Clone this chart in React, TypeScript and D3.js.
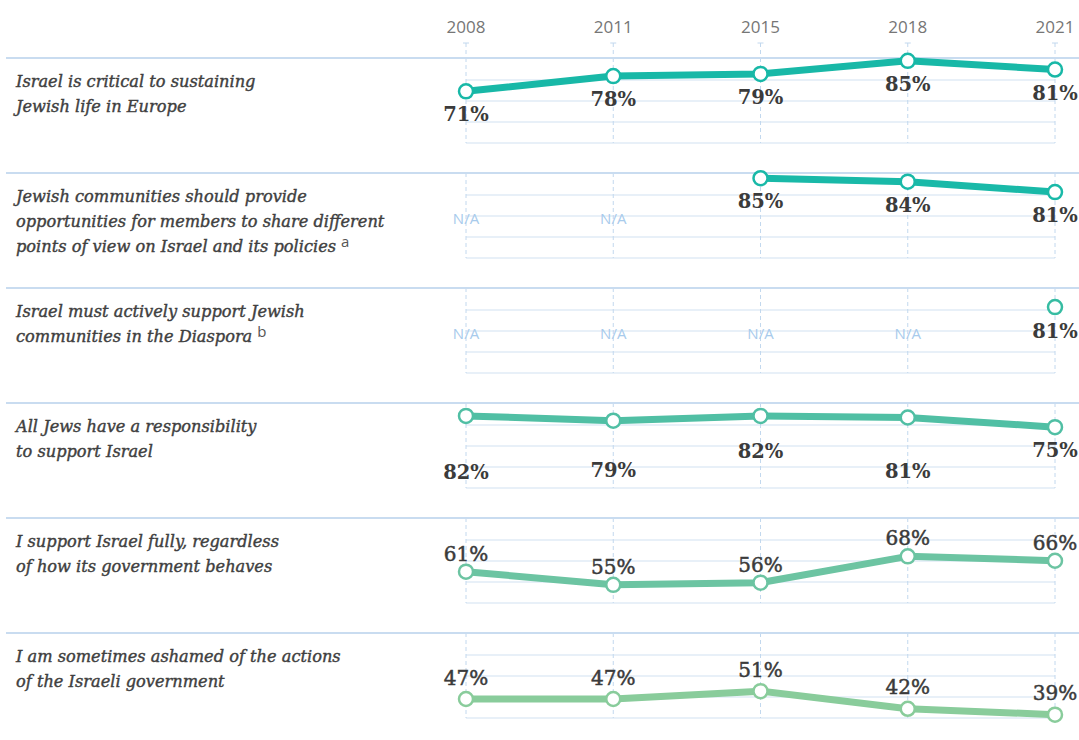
import * as d3 from "d3";

// survey years
const years = [2008, 2011, 2015, 2018, 2021];

// statement text, one entry per row, split into lines
const statements = [
  ["Israel is critical to sustaining", "Jewish life in Europe"],
  [
    "Jewish communities should provide",
    "opportunities for members to share different",
    "points of view on Israel and its policies",
  ],
  ["Israel must actively support Jewish", "communities in the Diaspora"],
  ["All Jews have a responsibility", "to support Israel"],
  ["I support Israel fully, regardless", "of how its government behaves"],
  ["I am sometimes ashamed of the actions", "of the Israeli government"],
];
const footnotes = ["", "a", "b", "", "", ""];

// % agreeing, null = not asked (N/A)
const criticalForEurope = [71, 78, 79, 85, 81];
const shareDifferentViews = [null, null, 85, 84, 81];
const supportDiaspora = [null, null, null, null, 81];
const responsibilityToSupport = [82, 79, 82, 81, 75];
const supportFully = [61, 55, 56, 68, 66];
const ashamedOfGovernment = [47, 47, 51, 42, 39];

const series = [
  criticalForEurope,
  shareDifferentViews,
  supportDiaspora,
  responsibilityToSupport,
  supportFully,
  ashamedOfGovernment,
];

// per-row look
const rowDomains = [
  [47.3, 86.3],
  [62, 86.5],
  [62, 86.5],
  [37.2, 90],
  [46.7, 85.5],
  [37.3, 80.7],
];
const rowColors = ["#18b8a7", "#19b9a8", "#36bca2", "#50bfa4", "#6cc4a2", "#89cc9b"];
const labelOffsets: (number | number[])[] = [23.5, 23.5, 24, [57, 50, 36, 54, 23], -18, -21.5];
const labelWeights = [700, 700, 700, 700, 400, 400];

const W = 1079;
const H = 740;
const firstRowTop = 58;
const rowH = 115;
const gridH = 85;
const gridSteps = [22, 43, 64, 85];

const serif = "'DejaVu Serif', serif";
const sans = "'Open Sans', sans-serif";

export default function App() {
  const x = d3
    .scalePoint<number>()
    .domain(years)
    .range([466, 1055]);

  return (
    <svg
      width={W}
      height={H}
      style={{ position: "absolute", left: 0, top: 0, background: "#fff" }}
    >
      {/* year header */}
      {years.map((yr) => (
        <g key={yr}>
          <text
            x={x(yr)}
            y={33}
            textAnchor="middle"
            fontFamily={sans}
            fontSize={17}
            fill="#767676"
          >
            {yr}
          </text>
          <line x1={x(yr)! - 3} x2={x(yr)! + 3} y1={43} y2={43} stroke="#c2d8ee" />
          <line
            x1={x(yr)}
            x2={x(yr)}
            y1={43}
            y2={firstRowTop}
            stroke="#c2d8ee"
            strokeDasharray="4,3"
          />
        </g>
      ))}

      {series.map((vals, i) => {
        const top = firstRowTop + i * rowH;
        const y = d3
          .scaleLinear()
          .domain(rowDomains[i])
          .range([top + gridH, top]);
        const pts = years.map((yr, j) => ({ yr, v: vals[j] }));
        const line = d3
          .line<{ yr: number; v: number | null }>()
          .defined((d) => d.v != null)
          .x((d) => x(d.yr)!)
          .y((d) => y(d.v as number));
        const off = labelOffsets[i];
        const color = rowColors[i];

        return (
          <g key={i}>
            {/* grid */}
            {gridSteps.map((s) => (
              <line
                key={s}
                x1={x(2008)}
                x2={x(2021)}
                y1={top + s}
                y2={top + s}
                stroke="#e1ebf6"
                strokeWidth={1.5}
              />
            ))}
            {years.map((yr) => (
              <line
                key={yr}
                x1={x(yr)}
                x2={x(yr)}
                y1={top}
                y2={top + gridH}
                stroke="#c2d8ee"
                strokeDasharray="4,3"
              />
            ))}
            <line x1={6} x2={W} y1={top} y2={top} stroke="#c9dcf0" strokeWidth={2} />

            {/* statement */}
            <text
              fontFamily={serif}
              fontStyle="italic"
              fontSize={16.2}
              fill="#404040"
              stroke="#404040"
              strokeWidth={0.4}
            >
              {statements[i].map((ln, k) => (
                <tspan key={k} x={16} y={top + 29 + k * 25}>
                  {ln}
                  {k === statements[i].length - 1 && footnotes[i] ? (
                    <tspan
                      dx={5}
                      dy={-5}
                      fontFamily={sans}
                      fontStyle="normal"
                      fontSize={15}
                      fill="#555"
                      strokeWidth={0}
                    >
                      {footnotes[i]}
                    </tspan>
                  ) : null}
                </tspan>
              ))}
            </text>

            {/* N/A markers */}
            {pts
              .filter((d) => d.v == null)
              .map((d) => (
                <text
                  key={d.yr}
                  x={x(d.yr)}
                  y={top + 45}
                  textAnchor="middle"
                  dominantBaseline="central"
                  fontFamily={sans}
                  fontSize={15}
                  fill="#a8cbec"
                >
                  N/A
                </text>
              ))}

            <path
              d={line(pts) || ""}
              fill="none"
              stroke={color}
              strokeWidth={7}
              strokeLinejoin="round"
            />
            {pts
              .filter((d) => d.v != null)
              .map((d) => {
                const j = years.indexOf(d.yr);
                const dy = Array.isArray(off) ? off[j] : off;
                const bold = labelWeights[i] === 700;
                return (
                  <g key={d.yr}>
                    <circle
                      cx={x(d.yr)}
                      cy={y(d.v as number)}
                      r={7}
                      fill="#fff"
                      stroke={color}
                      strokeWidth={2.5}
                    />
                    <text
                      x={x(d.yr)}
                      y={y(d.v as number) + dy}
                      textAnchor="middle"
                      dominantBaseline="central"
                      fontFamily={serif}
                      fontWeight={labelWeights[i]}
                      fontSize={bold ? 19.5 : 20}
                      fill="#3b3b3b"
                      stroke={bold ? "none" : "#3b3b3b"}
                      strokeWidth={0.5}
                    >
                      {d.v}%
                    </text>
                  </g>
                );
              })}
          </g>
        );
      })}
    </svg>
  );
}
